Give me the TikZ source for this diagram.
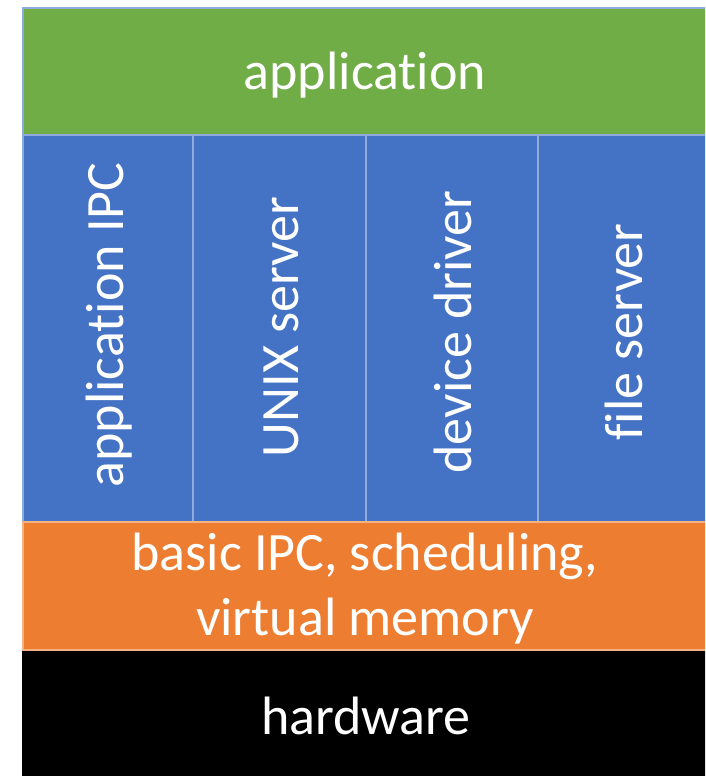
\documentclass[tikz,border=0pt]{standalone}
\usepackage{fontspec}
\setmainfont[Ligatures=NoCommon]{Carlito}
\definecolor{appgreen}{HTML}{70AD47}
\definecolor{srvblue}{HTML}{4472C4}
\definecolor{kerorange}{HTML}{ED7D31}
\definecolor{edgeblue}{HTML}{8FAADC}
\definecolor{edgeorange}{HTML}{F4B183}
\tikzset{
  layer/.style={draw=edgeblue, line width=2pt},
  lbl/.style={text=white, font=\fontsize{54}{65}\selectfont, align=center}
}
\begin{document}
\begin{tikzpicture}[x=1pt,y=-1pt]
\useasboundingbox (0,0) rectangle (705,776);
\clip (0,0) rectangle (705,776);
\draw[layer, fill=appgreen] (23,8) rectangle (710,135);
\node[lbl] (app) at (365,75) {application};
\draw[layer, fill=srvblue] (23,135) rectangle (193,522);
\draw[layer, fill=srvblue] (193,135) rectangle (366,522);
\draw[layer, fill=srvblue] (366,135) rectangle (538,522);
\draw[layer, fill=srvblue] (538,135) rectangle (710,522);
\node[lbl, rotate=90] (ipc) at (109,325) {application IPC};
\node[lbl, rotate=90] (unix) at (281,327) {UNIX server};
\node[lbl, rotate=90] (dev) at (453,332) {device driver};
\node[lbl, rotate=90] (file) at (624,332) {file server};
\draw[draw=edgeorange, line width=2pt, fill=kerorange] (23,522) rectangle (710,650);
\node[lbl] (kern) at (365,589) {basic IPC, scheduling,\\virtual memory};
\fill[black] (22,651) rectangle (710,780);
\node[lbl] (hw) at (366,716) {hardware};
\end{tikzpicture}
\end{document}
